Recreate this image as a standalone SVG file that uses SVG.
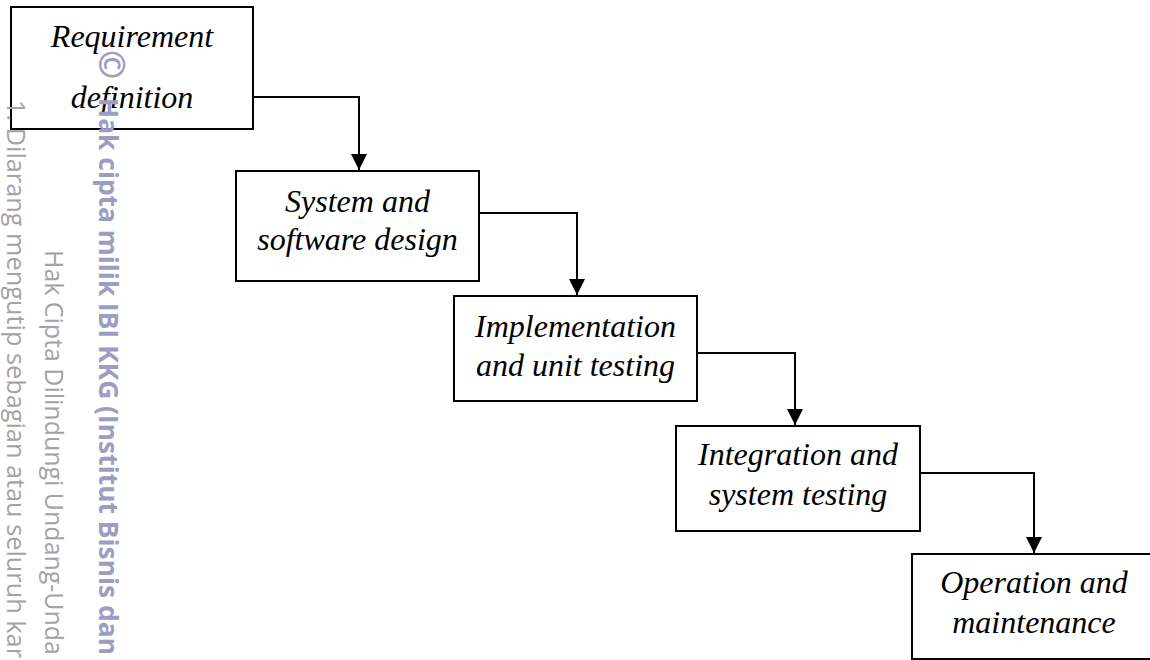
<svg xmlns="http://www.w3.org/2000/svg" width="1150" height="660" viewBox="0 0 1150 660">
  <style>
    .box { fill: #ffffff; stroke: #000000; stroke-width: 2; }
    .lbl { font-family: "Liberation Serif", "Times New Roman", serif; font-style: italic; font-size: 32px; fill: #000000; text-anchor: middle; }
    .wire { fill: none; stroke: #000000; stroke-width: 2; }
    .wm { font-family: "Open Sans", "Noto Sans", sans-serif; font-size: 25px; fill: #a3a3a3; }
    .wm-bold { font-family: "Open Sans", "Noto Sans", sans-serif; font-size: 27px; font-weight: bold; fill: #9d9dc3; }
  </style>
  <defs>
    <marker id="arrow" markerUnits="userSpaceOnUse" markerWidth="16" markerHeight="16" viewBox="0 0 15 15" refX="15" refY="7.5" orient="auto">
      <path d="M0,0 L15,7.5 L0,15 Z" fill="#000000"/>
    </marker>
  </defs>
  <rect width="1150" height="660" fill="#ffffff"/>

  <!-- waterfall stages -->
  <g id="requirement-definition">
    <rect class="box" x="11" y="7" width="242" height="122"/>
    <text class="lbl" x="132" y="47">Requirement</text>
    <text class="lbl" x="132" y="108">definition</text>
  </g>
  <g id="system-software-design">
    <rect class="box" x="236" y="171" width="243" height="110"/>
    <text class="lbl" x="357.5" y="212">System and</text>
    <text class="lbl" x="357.5" y="250">software design</text>
  </g>
  <g id="implementation-unit-testing">
    <rect class="box" x="454" y="296" width="243" height="105"/>
    <text class="lbl" x="575.5" y="337">Implementation</text>
    <text class="lbl" x="575.5" y="376">and unit testing</text>
  </g>
  <g id="integration-system-testing">
    <rect class="box" x="676" y="426" width="244" height="105"/>
    <text class="lbl" x="798" y="465">Integration and</text>
    <text class="lbl" x="798" y="505">system testing</text>
  </g>
  <g id="operation-maintenance">
    <rect class="box" x="912" y="554" width="244" height="105"/>
    <text class="lbl" x="1034" y="593">Operation and</text>
    <text class="lbl" x="1034" y="633">maintenance</text>
  </g>

  <!-- step connectors -->
  <g id="connectors">
    <path class="wire" d="M253,97 H359 V170" marker-end="url(#arrow)"/>
    <path class="wire" d="M479,213 H577 V295" marker-end="url(#arrow)"/>
    <path class="wire" d="M697,353 H795 V425" marker-end="url(#arrow)"/>
    <path class="wire" d="M920,473 H1034 V553" marker-end="url(#arrow)"/>
  </g>

  <!-- vertical copyright notice along the left margin -->
  <g id="notice">
    <text class="wm" transform="translate(7,100) rotate(90)" textLength="558" lengthAdjust="spacingAndGlyphs">1. Dilarang mengutip sebagian atau seluruh kar</text>
    <text class="wm" transform="translate(45,250) rotate(90)" textLength="405" lengthAdjust="spacingAndGlyphs">Hak Cipta Dilindungi Undang-Unda</text>
    <text class="wm-bold" transform="translate(99,50) rotate(90)"><tspan font-size="35px">©</tspan><tspan x="48" textLength="557" lengthAdjust="spacingAndGlyphs">Hak cipta milik IBI KKG (Institut Bisnis dan</tspan></text>
  </g>
</svg>
